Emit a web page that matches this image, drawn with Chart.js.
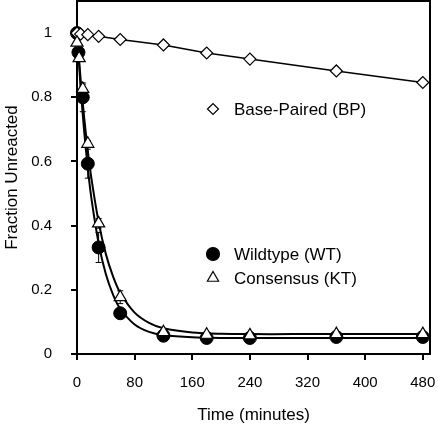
<!DOCTYPE html>
<html>
<head>
<meta charset="utf-8">
<script src="https://cdn.jsdelivr.net/npm/chart.js@4/dist/chart.umd.min.js"></script>
<style>
  body { margin:0; background:#fff; }
  canvas { display:block; }
</style>
</head>
<body>
<canvas id="c" width="440" height="426"></canvas>
<script>
// ---- data ----
const bpTime = [0, 5, 15, 30, 60, 120, 180, 240, 360, 480];
const bpVals = [1.0, 0.997, 0.995, 0.99, 0.98, 0.963, 0.938, 0.919, 0.882, 0.846];

const wtTime = [0, 2, 8, 15, 30, 60, 120, 180, 240, 360, 480];
const wtVals = [1.0, 0.94, 0.80, 0.593, 0.332, 0.127, 0.057, 0.05, 0.05, 0.053, 0.053];
const wtErr  = [0, 0.01, 0.045, 0.045, 0.047, 0.01, 0.005, 0.005, 0.005, 0.005, 0.005];

const ktTime = [0, 3, 8, 15, 30, 60, 120, 180, 240, 360, 480];
const ktVals = [0.97, 0.922, 0.826, 0.655, 0.407, 0.177, 0.068, 0.06, 0.058, 0.062, 0.062];
const ktErr  = [0, 0.01, 0.015, 0.01, 0.015, 0.02, 0.005, 0.005, 0.005, 0.005, 0.005];

// fitted curves (traced)
const fitTime = [0, 5, 10, 15, 20, 30, 40, 50, 60, 80, 100, 120, 160, 200, 240, 300, 360, 420, 480];
const wtFit   = [1.0, 0.832, 0.693, 0.579, 0.485, 0.345, 0.249, 0.185, 0.141, 0.092, 0.069, 0.059, 0.052, 0.05, 0.05, 0.05, 0.05, 0.05, 0.05];
const ktFit   = [1.0, 0.857, 0.736, 0.634, 0.547, 0.411, 0.312, 0.242, 0.191, 0.129, 0.097, 0.080, 0.067, 0.063, 0.062, 0.062, 0.062, 0.062, 0.062];

const xTicks = [0, 80, 160, 240, 320, 400, 480];
const yTicks = [0, 0.2, 0.4, 0.6, 0.8, 1];

const FONT = "'Liberation Sans', Arial, sans-serif";
const pts = (xs, ys) => xs.map((x, i) => ({x: x, y: ys[i]}));

// error bars, drawn under the markers
const errorBars = {
  id: 'errorBars',
  beforeDatasetsDraw(chart){
    const ctx = chart.ctx, xs = chart.scales.x, ys = chart.scales.y;
    ctx.save();
    ctx.strokeStyle = '#000'; ctx.lineWidth = 1;
    [[wtTime, wtVals, wtErr], [ktTime, ktVals, ktErr]].forEach(([t, v, e]) => {
      t.forEach((tt, i) => {
        if(!e[i]) return;
        const px = xs.getPixelForValue(tt);
        const y1 = ys.getPixelForValue(v[i] + e[i]), y2 = ys.getPixelForValue(v[i] - e[i]);
        ctx.beginPath();
        ctx.moveTo(px, y1); ctx.lineTo(px, y2);
        ctx.moveTo(px - 3, y1); ctx.lineTo(px + 3, y1);
        ctx.moveTo(px - 3, y2); ctx.lineTo(px + 3, y2);
        ctx.stroke();
      });
    });
    ctx.restore();
  }
};

// top/right frame and in-plot legend
const frameLegend = {
  id: 'frameLegend',
  afterDraw(chart){
    const ctx = chart.ctx, a = chart.chartArea;
    ctx.save();
    ctx.strokeStyle = '#000'; ctx.lineWidth = 2;
    ctx.beginPath();
    ctx.moveTo(a.left, a.top); ctx.lineTo(a.right, a.top); ctx.lineTo(a.right, a.bottom);
    ctx.stroke();

    const items = [
      {y: 109, text: 'Base-Paired (BP)', style: 'rectRot', r: 5.5, fill: '#fff'},
      {y: 254, text: 'Wildtype (WT)', style: 'circle', r: 6.5, fill: '#000'},
      {y: 278, text: 'Consensus (KT)', style: 'triangle', r: 6.5, fill: '#fff'}
    ];
    ctx.font = '17px ' + FONT;
    ctx.textBaseline = 'middle';
    items.forEach(it => {
      ctx.fillStyle = it.fill; ctx.strokeStyle = '#000'; ctx.lineWidth = 1.2;
      Chart.helpers.drawPoint(ctx, {pointStyle: it.style, radius: it.r, borderWidth: 1.2}, 213, it.y);
      ctx.fillStyle = '#000';
      ctx.fillText(it.text, 234, it.y + 1);
    });
    ctx.restore();
  }
};

new Chart(document.getElementById('c'), {
  type: 'scatter',
  data: {
    datasets: [
      {label: 'WT fit', data: pts(fitTime, wtFit), showLine: true, borderColor: '#000', borderWidth: 2,
       pointRadius: 0, tension: 0.3, order: 6},
      {label: 'KT fit', data: pts(fitTime, ktFit), showLine: true, borderColor: '#000', borderWidth: 2,
       pointRadius: 0, tension: 0.3, order: 5},
      {label: 'Base-Paired (BP)', data: pts(bpTime, bpVals), showLine: true, borderColor: '#000', borderWidth: 1.5,
       pointStyle: 'rectRot', pointRadius: 6, pointBackgroundColor: '#fff', pointBorderColor: '#000', pointBorderWidth: 1.2, order: 1.5},
      {label: 'Wildtype (WT)', data: pts(wtTime, wtVals), showLine: false,
       pointStyle: 'circle', pointRadius: 6.5, pointBackgroundColor: '#000', pointBorderColor: '#000', pointBorderWidth: 1, order: 2},
      {label: 'Consensus (KT)', data: pts(ktTime, ktVals), showLine: false,
       pointStyle: 'triangle', pointRadius: 7, pointBackgroundColor: '#fff', pointBorderColor: '#000', pointBorderWidth: 1.2, order: 1}
    ]
  },
  options: {
    responsive: false,
    animation: false,
    clip: false,
    layout: {autoPadding: false, padding: {left: 0, right: 10, top: 1, bottom: 0}},
    plugins: {legend: {display: false}, tooltip: {enabled: false}},
    scales: {
      x: {
        type: 'linear', min: 0, max: 490,
        afterBuildTicks: s => { s.ticks = xTicks.map(v => ({value: v})); },
        afterFit: s => { s.height = 72; s.paddingLeft = 0; s.paddingRight = 0; },
        grid: {drawOnChartArea: false, drawTicks: true, tickLength: 6, color: '#000', lineWidth: 2},
        border: {color: '#000', width: 2},
        ticks: {color: '#000', font: {family: FONT, size: 15}, padding: 14, maxRotation: 0},
        title: {display: true, text: 'Time (minutes)', color: '#000', font: {family: FONT, size: 17}, padding: {top: 0, bottom: 0}}
      },
      y: {
        type: 'linear', min: 0, max: 1.1,
        afterBuildTicks: s => { s.ticks = yTicks.map(v => ({value: v})); },
        afterFit: s => { s.width = 77; s.paddingTop = 0; s.paddingBottom = 0; },
        grid: {drawOnChartArea: false, drawTicks: true, tickLength: 6, color: '#000', lineWidth: 2},
        border: {color: '#000', width: 2},
        ticks: {color: '#000', font: {family: FONT, size: 15}, padding: 19, callback: v => String(Math.round(v * 10) / 10)},
        title: {display: true, text: 'Fraction Unreacted', color: '#000', font: {family: FONT, size: 17}, padding: {top: 2, bottom: 4}}
      }
    }
  },
  plugins: [errorBars, frameLegend]
});
</script>
</body>
</html>
